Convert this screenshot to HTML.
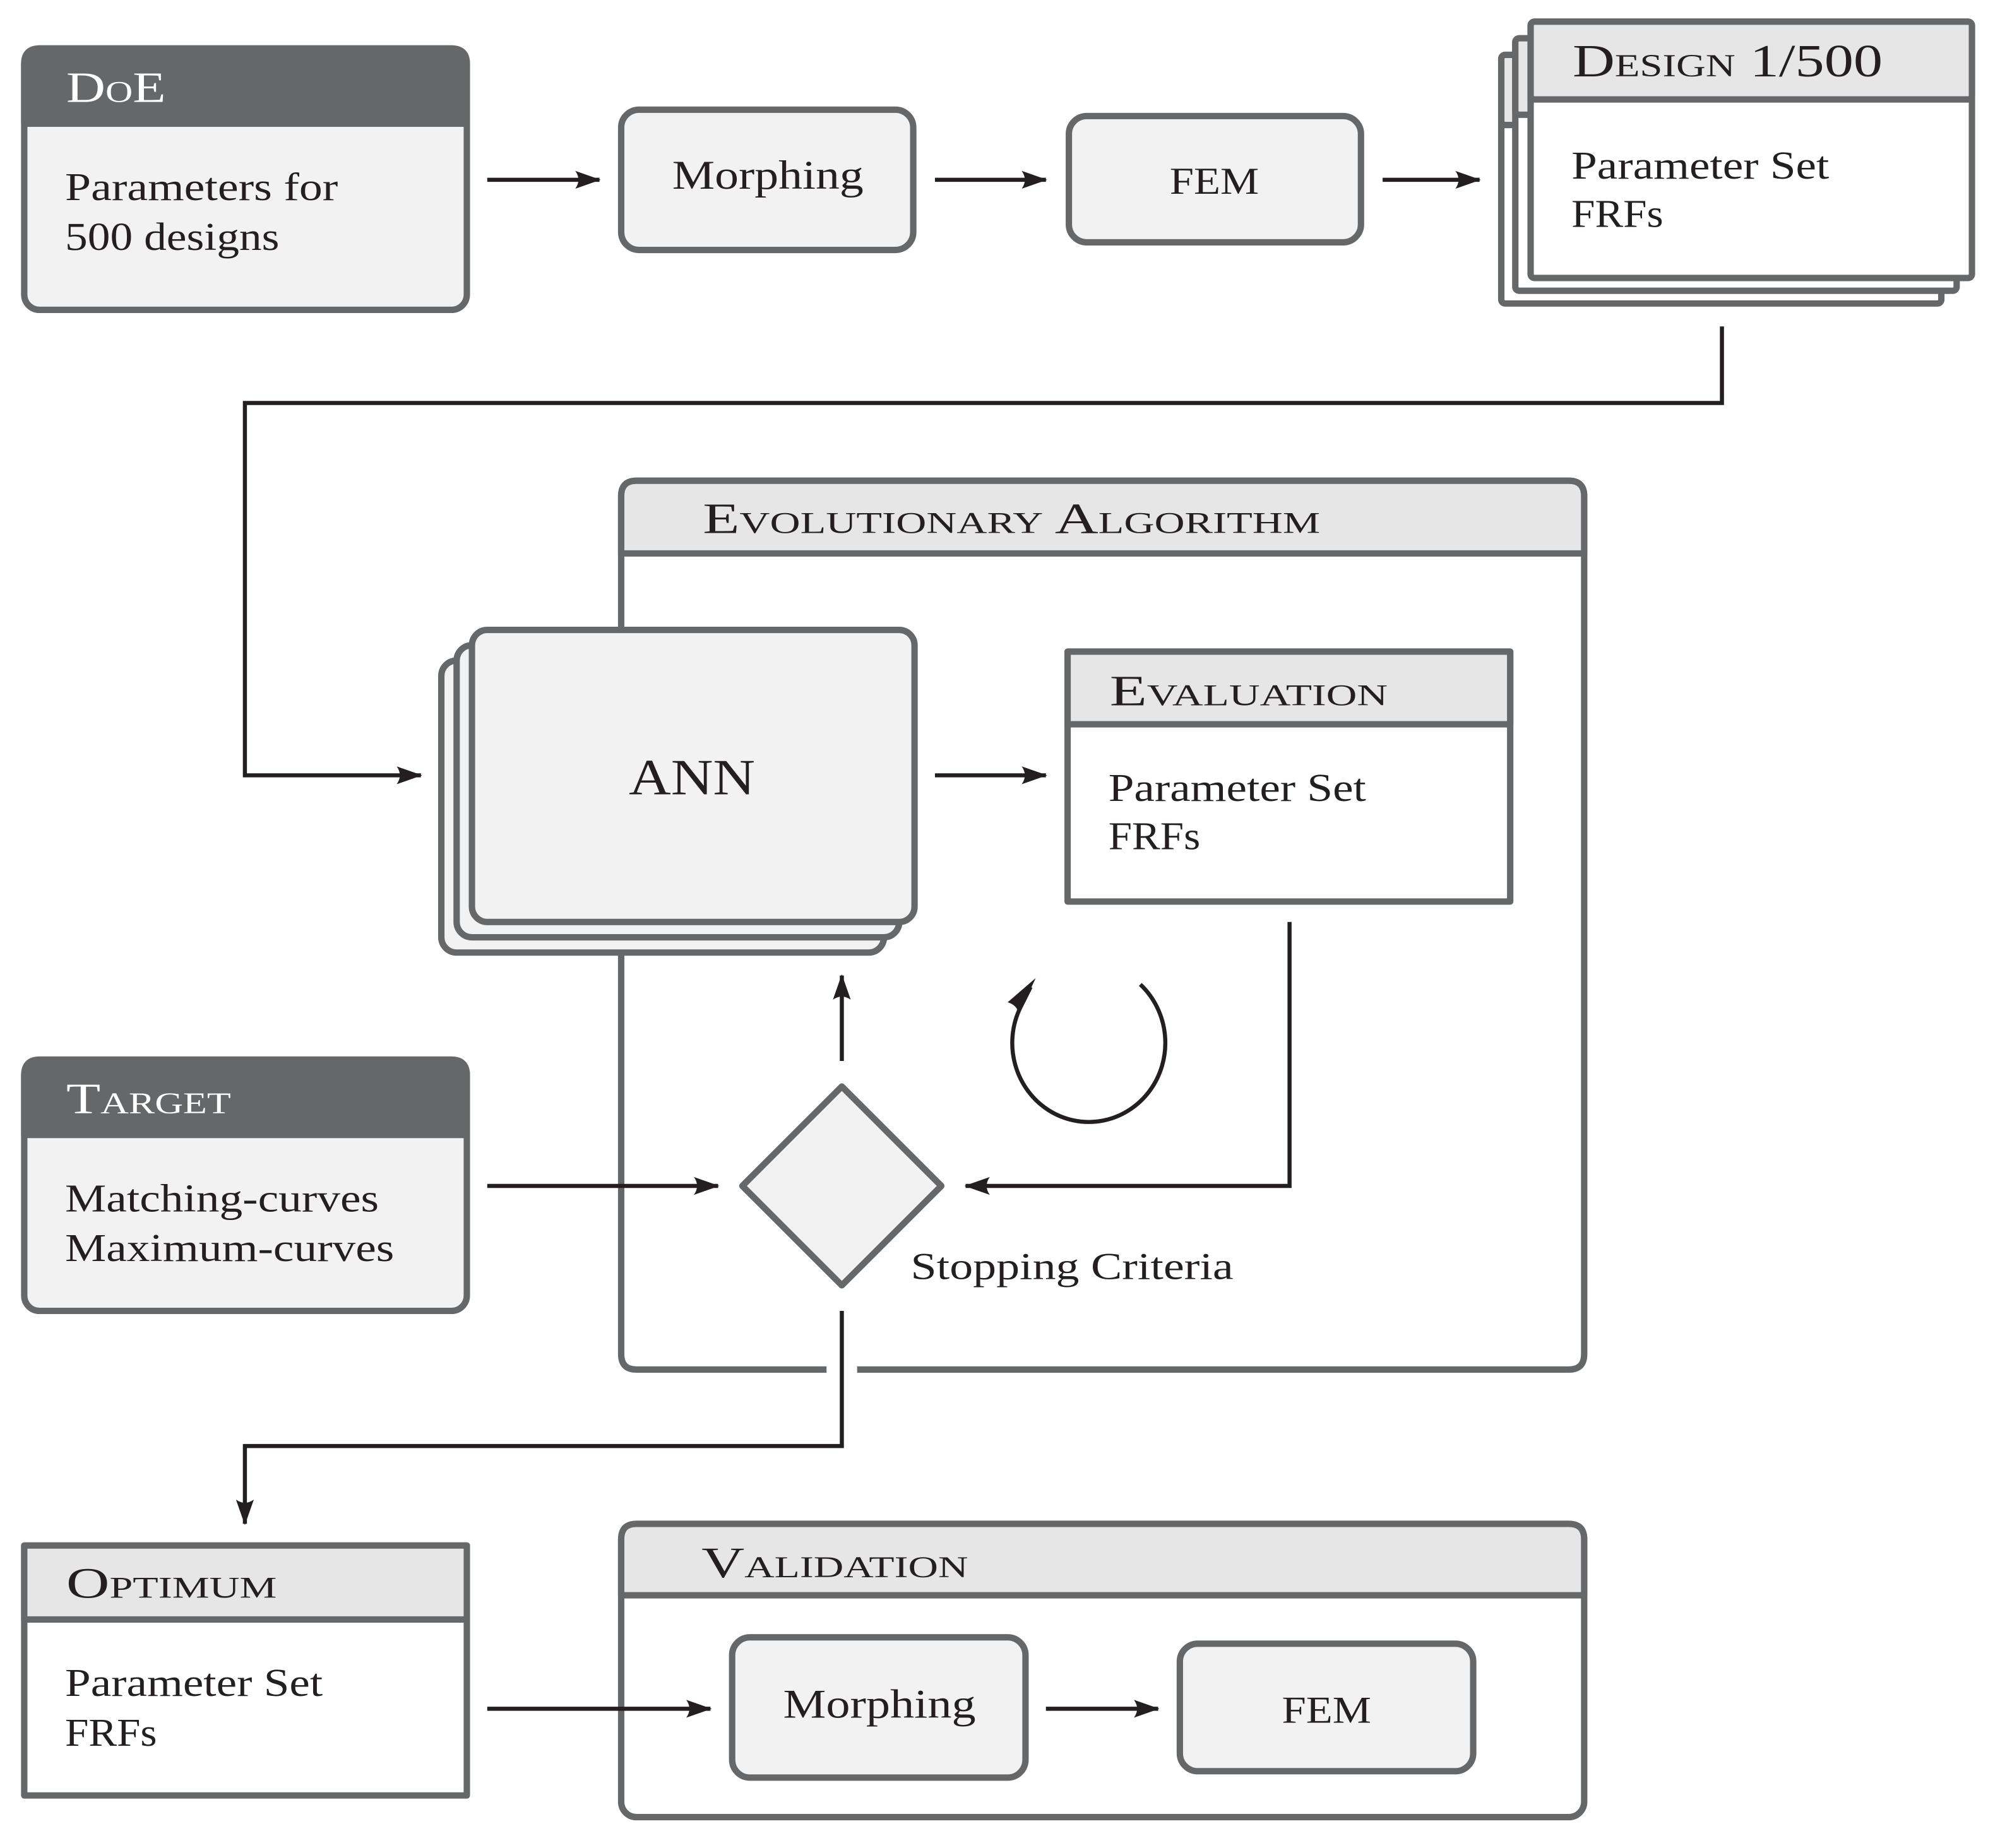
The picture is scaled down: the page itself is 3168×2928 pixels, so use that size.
<!DOCTYPE html>
<html><head><meta charset="utf-8"><style>
html,body{margin:0;padding:0;background:#fff}
svg{display:block}
text{font-family:"Liberation Serif",serif;fill:#231f20}
.sc{font-variant:small-caps}
</style></head><body>
<svg width="3168" height="2928" viewBox="0 0 1568 1449.2" xmlns="http://www.w3.org/2000/svg">
<defs>
<marker id="ah" viewBox="0 0 20 14" refX="19" refY="7" markerWidth="20" markerHeight="14" markerUnits="userSpaceOnUse" orient="auto">
<path d="M0,0 L20,7 L0,14 Q5,7 0,0 Z" fill="#231f20"/>
</marker>
</defs>
<g stroke="#666769" stroke-width="5" stroke-linejoin="round">
<rect x="19" y="38" width="347" height="205" rx="12" fill="#f2f2f2"/>
<path d="M19,97 V50 Q19,38 31,38 H354 Q366,38 366,50 V97 Z" fill="#666769"/>
<rect x="487" y="86" width="229" height="110" rx="14" fill="#f2f2f2"/>
<rect x="838" y="91" width="229" height="99" rx="14" fill="#f2f2f2"/>
<rect x="1177" y="43" width="345" height="195" rx="3" fill="#fff"/>
<rect x="1177" y="43" width="345" height="55" rx="3" fill="#e6e6e6"/>
<rect x="1188" y="30" width="346" height="198" rx="3" fill="#fff"/>
<rect x="1188" y="30" width="346" height="60" rx="3" fill="#e6e6e6"/>
<rect x="1200" y="17" width="346" height="201" rx="3" fill="#fff"/>
<rect x="1200" y="17" width="346" height="61" rx="3" fill="#e6e6e6"/>
<path d="M648,1074 H499 Q487,1074 487,1062 V389 Q487,377 499,377 H1230 Q1242,377 1242,389 V1062 Q1242,1074 1230,1074 H672" fill="#fff"/>
<path d="M487,434 V389 Q487,377 499,377 H1230 Q1242,377 1242,389 V434 Z" fill="#e6e6e6"/>
<rect x="346" y="518" width="347" height="229" rx="12" fill="#f2f2f2"/>
<rect x="358" y="506" width="347" height="229" rx="12" fill="#f2f2f2"/>
<rect x="370" y="494" width="347" height="229" rx="12" fill="#f2f2f2"/>
<rect x="837" y="511" width="347" height="196" fill="#fff"/>
<rect x="837" y="511" width="347" height="57" fill="#e6e6e6"/>
<path d="M660,852 L738,930 L660,1008 L582,930 Z" fill="#f2f2f2"/>
<rect x="19" y="831" width="347" height="197" rx="12" fill="#f2f2f2"/>
<path d="M19,890 V843 Q19,831 31,831 H354 Q366,831 366,843 V890 Z" fill="#666769"/>
<rect x="19" y="1212" width="347" height="196" fill="#fff"/>
<rect x="19" y="1212" width="347" height="58" fill="#e6e6e6"/>
<rect x="487" y="1195" width="755" height="230" rx="12" fill="#fff"/>
<path d="M487,1251 V1207 Q487,1195 499,1195 H1230 Q1242,1195 1242,1207 V1251 Z" fill="#e6e6e6"/>
<rect x="574" y="1284" width="230" height="110" rx="14" fill="#f2f2f2"/>
<rect x="925" y="1289" width="230" height="100" rx="14" fill="#f2f2f2"/>
</g>
<g stroke="#231f20" stroke-width="3.2" fill="none" marker-end="url(#ah)">
<path d="M382,141 H470"/>
<path d="M733,141 H820"/>
<path d="M1084,141 H1160"/>
<path d="M1350,256 V316 H192 V608 H330"/>
<path d="M733,608 H820"/>
<path d="M1011,723 V930 H757"/>
<path d="M660,832 V765"/>
<path d="M382,930 H563"/>
<path d="M660,1028 V1134 H192 V1195"/>
<path d="M382,1340 H557"/>
<path d="M820,1340 H908"/>
<path d="M894,772 A60,62 0 1 1 800,790 L808,774" marker-end="none"/>
</g>
<path d="M812,767 L799,795 Q797,788 790,786 Z" fill="#231f20"/>
<g font-size="34" lengthAdjust="spacingAndGlyphs">
<text x="52" y="80" class="sc" style="fill:#fff" textLength="78" lengthAdjust="spacingAndGlyphs">DoE</text>
<text x="51" y="157" font-size="31" textLength="214" lengthAdjust="spacingAndGlyphs">Parameters for</text>
<text x="51" y="196" font-size="31" textLength="168" lengthAdjust="spacingAndGlyphs">500 designs</text>
<text x="527" y="148" font-size="32" textLength="150" lengthAdjust="spacingAndGlyphs">Morphing</text>
<text x="917" y="152" font-size="30" textLength="70" lengthAdjust="spacingAndGlyphs">FEM</text>
<text x="1233" y="60" class="sc" font-size="36" textLength="243" lengthAdjust="spacingAndGlyphs">Design 1/500</text>
<text x="1232" y="140" font-size="31" textLength="202" lengthAdjust="spacingAndGlyphs">Parameter Set</text>
<text x="1232" y="178" font-size="31" textLength="72" lengthAdjust="spacingAndGlyphs">FRFs</text>
<text x="551" y="418" class="sc" font-size="34" textLength="484" lengthAdjust="spacingAndGlyphs">Evolutionary Algorithm</text>
<text x="493" y="623" font-size="40" textLength="99" lengthAdjust="spacingAndGlyphs">ANN</text>
<text x="870" y="553" class="sc" font-size="34" textLength="218" lengthAdjust="spacingAndGlyphs">Evaluation</text>
<text x="869" y="628" font-size="31" textLength="202" lengthAdjust="spacingAndGlyphs">Parameter Set</text>
<text x="869" y="666" font-size="31" textLength="72" lengthAdjust="spacingAndGlyphs">FRFs</text>
<text x="714" y="1003" font-size="30" textLength="253" lengthAdjust="spacingAndGlyphs">Stopping Criteria</text>
<text x="52" y="873" class="sc" style="fill:#fff" font-size="34" textLength="129" lengthAdjust="spacingAndGlyphs">Target</text>
<text x="51" y="950" font-size="31" textLength="246" lengthAdjust="spacingAndGlyphs">Matching-curves</text>
<text x="51" y="989" font-size="31" textLength="258" lengthAdjust="spacingAndGlyphs">Maximum-curves</text>
<text x="52" y="1253" class="sc" font-size="34" textLength="165" lengthAdjust="spacingAndGlyphs">Optimum</text>
<text x="51" y="1330" font-size="31" textLength="202" lengthAdjust="spacingAndGlyphs">Parameter Set</text>
<text x="51" y="1369" font-size="31" textLength="72" lengthAdjust="spacingAndGlyphs">FRFs</text>
<text x="550" y="1237" class="sc" font-size="34" textLength="209" lengthAdjust="spacingAndGlyphs">Validation</text>
<text x="614" y="1347" font-size="32" textLength="151" lengthAdjust="spacingAndGlyphs">Morphing</text>
<text x="1005" y="1351" font-size="30" textLength="70" lengthAdjust="spacingAndGlyphs">FEM</text>
</g>
</svg>
</body></html>
